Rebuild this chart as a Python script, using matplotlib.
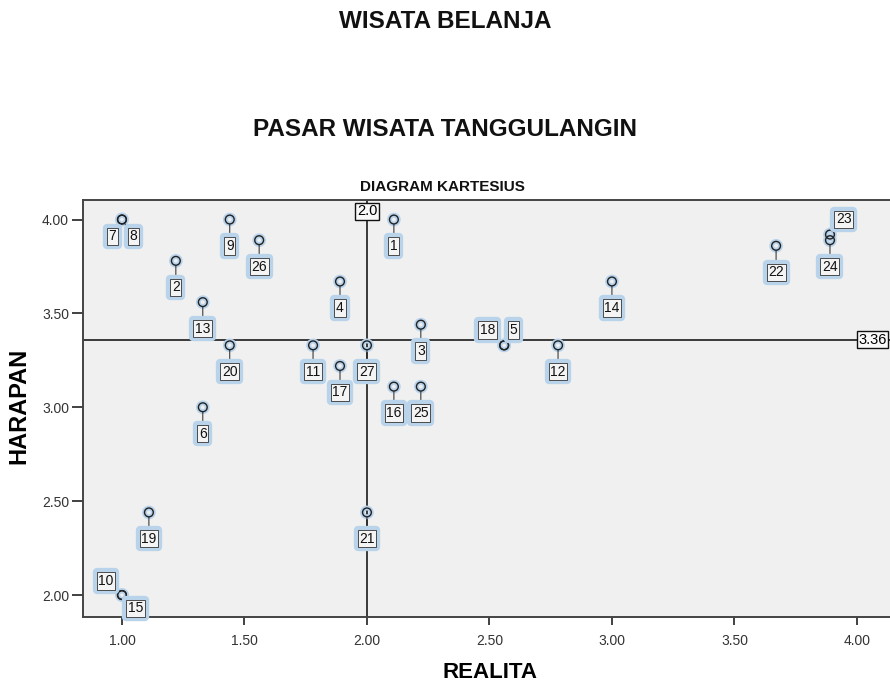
import matplotlib
matplotlib.use("Agg")
import matplotlib.pyplot as plt
import matplotlib.patheffects as pe

plt.rcParams['font.family'] = ['Liberation Sans', 'DejaVu Sans']

# responden / atribut 1..27
labels = [str(i) for i in range(1, 28)]
realita = [2.11, 1.22, 2.22, 1.89, 2.56, 1.33, 1.00, 1.00, 1.44, 1.00,
           1.78, 2.78, 1.33, 3.00, 1.00, 2.11, 1.89, 2.56, 1.11, 1.44,
           2.00, 3.67, 3.89, 3.89, 2.22, 1.56, 2.00]
harapan = [4.00, 3.78, 3.44, 3.67, 3.33, 3.00, 4.00, 4.00, 4.00, 2.00,
           3.33, 3.33, 3.56, 3.67, 2.00, 3.11, 3.22, 3.33, 2.44, 3.33,
           2.44, 3.86, 3.92, 3.89, 3.11, 3.89, 3.33]

# garis rata-rata
mean_realita = 2.0
mean_harapan = 3.36

xticks = [1.0, 1.5, 2.0, 2.5, 3.0, 3.5, 4.0]
yticks = [2.0, 2.5, 3.0, 3.5, 4.0]

# label placement (points) - default is below the marker
default_off = (0, -19)
special_off = {'7': (-7, -12), '8': (8, -12), '18': (-12, 11), '5': (6.5, 11),
               '10': (-11.5, 10), '15': (10, -9.5), '23': (10, 11)}

fig = plt.figure(figsize=(8.9, 6.86), dpi=100)
ax = fig.add_axes([83 / 890, 1 - 617 / 686, 1 - 83 / 890, (617 - 200) / 686])
ax.set_facecolor('#f0f0f0')
ax.set_xlim(0.841, 4.135)
ax.set_ylim(1.883, 4.104)

ax.axvline(mean_realita, color='#3a3a3a', lw=1.4, zorder=2)
ax.axhline(mean_harapan, color='#3a3a3a', lw=1.4, zorder=2)

ax.scatter(realita, harapan, s=40, facecolors='none', edgecolors='#b7d2ea',
           linewidths=3.5, zorder=3)
ax.scatter(realita, harapan, s=40, facecolors='none', edgecolors='#222222',
           linewidths=1.0, zorder=4)

for lab, x, y in zip(labels, realita, harapan):
    dx, dy = special_off.get(lab, default_off)
    t = ax.annotate(lab, (x, y), xytext=(dx, dy), textcoords='offset points',
                    ha='center', va='center', fontsize=10, color='#111111',
                    zorder=5,
                    bbox=dict(boxstyle='square,pad=0.12', fc='#f4f4f4',
                              ec='#333333', lw=0.6),
                    arrowprops=dict(arrowstyle='-', color='#222222', lw=0.7,
                                    shrinkA=0, shrinkB=3.5))
    t.get_bbox_patch().set_path_effects(
        [pe.Stroke(linewidth=6, foreground='#b9d4ea', joinstyle='round'),
         pe.Normal()])

# nilai garis rata-rata
ax.text(mean_realita, 4.045, '2.0', ha='center', va='center', fontsize=10.5,
        zorder=6, bbox=dict(boxstyle='square,pad=0.1', fc='#f8f8f8',
                            ec='#111111', lw=1.0))
ax.text(4.005, mean_harapan, '3.36', ha='left', va='center', fontsize=10.5,
        zorder=6, bbox=dict(boxstyle='square,pad=0.1', fc='#f8f8f8',
                            ec='#111111', lw=1.0))

ax.set_xticks(xticks)
ax.set_xticklabels([f'{v:.2f}' for v in xticks])
ax.set_yticks(yticks)
ax.set_yticklabels([f'{v:.2f}' for v in yticks])
ax.tick_params(axis='x', direction='out', length=6, width=1.3, color='#333333',
               labelsize=10, labelcolor='#333333', pad=6)
ax.tick_params(axis='y', direction='out', length=8, width=1.3, color='#333333',
               labelsize=10, labelcolor='#333333', pad=2)
for side in ['left', 'bottom', 'top']:
    ax.spines[side].set_color('#444444')
    ax.spines[side].set_linewidth(1.4)
ax.spines['right'].set_visible(False)

ax.set_xlabel('REALITA', fontsize=16, fontweight='bold', va='center')
ax.xaxis.set_label_coords((490 - 83) / 807, -(673 - 617) / 417)
ax.set_ylabel('HARAPAN', fontsize=17, fontweight='bold', va='center')
ax.yaxis.set_label_coords(-(83 - 19) / 807, (617 - 406) / 417)

fig.text(445 / 890, 1 - 22 / 686, 'WISATA BELANJA', ha='center', va='center',
         fontsize=17.5, fontweight='bold', color='#111111')
fig.text(445 / 890, 1 - 130 / 686, 'PASAR WISATA TANGGULANGIN', ha='center',
         va='center', fontsize=17.5, fontweight='bold', color='#111111')
fig.text(442 / 890, 1 - 187 / 686, 'DIAGRAM KARTESIUS', ha='center',
         va='center', fontsize=11, fontweight='bold', color='#111111')

fig.savefig('out.png', dpi=100, facecolor='white')
